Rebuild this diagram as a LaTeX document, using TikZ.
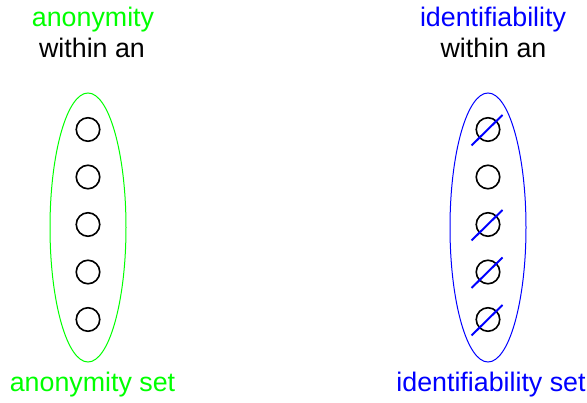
\documentclass[tikz,border=0pt]{standalone}
\usepackage{fontspec}
\setmainfont{Liberation Sans}
\usepackage{xcolor}
\usetikzlibrary{shapes.geometric}

\definecolor{anongreen}{RGB}{0,255,0}
\definecolor{identblue}{RGB}{0,0,255}

\tikzset{
	member/.style={circle, draw=black, line width=1.6, minimum size=23.5, inner sep=0},
	setring/.style={ellipse, line width=1, minimum width=76, minimum height=269, inner sep=0},
	label/.style={font=\fontsize{26.8}{30}\selectfont, inner sep=0}
}

\begin{document}
\begin{tikzpicture}[x=1pt,y=-1pt]

\useasboundingbox (0,0) rectangle (587,403);

% the two sets
\node[setring, draw=anongreen] (anonset) at (88,227.5) {};
\node[setring, draw=identblue] (identset) at (488,227.5) {};

% members of each set
\foreach \a/\y in {1/129.5,2/177,3/224.5,4/272,5/319.5}{
	\node[member] (anon\a) at (88,\y) {};
	\node[member] (ident\a) at (488,\y) {};
}

% crossed out members
\foreach \a in {1,3,4,5}{
	\draw[color=identblue, line width=2] ([shift={(-16.5,16)}]ident\a.center)--([shift={(14.5,-14.5)}]ident\a.center);
}

\node[label, text=anongreen] (anontop) at (93,20) {anonymity};
\node[label] (anonwithin) at (92,48) {within an};
\node[label, text=anongreen] (anonbottom) at (92.5,385) {anonymity set};

\node[label, text=identblue] (identtop) at (493,20) {identifiability};
\node[label] (identwithin) at (493.5,48) {within an};
\node[label, text=identblue] (identbottom) at (491,385) {identifiability set};

\end{tikzpicture}
\end{document}
